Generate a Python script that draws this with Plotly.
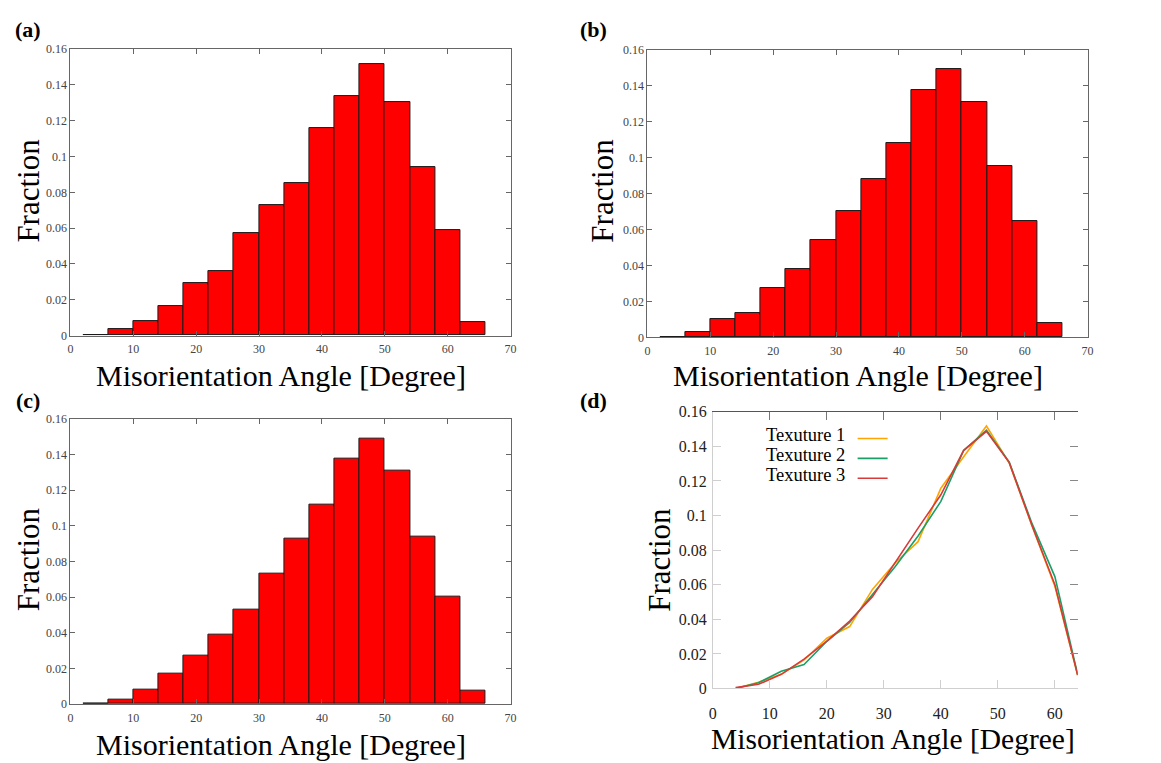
import plotly.graph_objects as go

# ---------------- data ----------------
bin_centers = [4, 8, 12, 16, 20, 24, 28, 32, 36, 40, 44, 48, 52, 56, 60, 64]
frac_a = [0.0, 0.0036, 0.0082, 0.0165, 0.0291, 0.0358, 0.0573, 0.0727, 0.0849,
          0.1158, 0.1340, 0.1518, 0.1304, 0.0940, 0.0591, 0.0076]
frac_b = [0.0, 0.0033, 0.0100, 0.0138, 0.0273, 0.0382, 0.0544, 0.0705, 0.0882,
          0.1082, 0.1376, 0.1493, 0.1309, 0.0953, 0.0647, 0.0080]
frac_c = [0.0005, 0.0024, 0.0082, 0.0170, 0.0274, 0.0390, 0.0531, 0.0732, 0.0927,
          0.1120, 0.1377, 0.1487, 0.1306, 0.0941, 0.0600, 0.0077]
series_names = ["Texuture 1", "Texuture 2", "Texuture 3"]
series_colors = ["#FFA500", "#1AA067", "#D83A3A"]
panel_labels = ["(a)", "(b)", "(c)", "(d)"]
x_title = "Misorientation Angle [Degree]"
y_title = "Fraction"

W, H = 1161, 763
SERIF = "Liberation Serif, Times New Roman, serif"


def px(x):
    return x / W


def py(y):
    return 1 - y / H


fig = go.Figure()

# ---------------- histograms (a), (b), (c) ----------------
for i, vals in enumerate([frac_a, frac_b, frac_c], start=1):
    fig.add_trace(go.Bar(
        x=bin_centers, y=vals, width=4,
        marker=dict(color="#FF0000", line=dict(color="#1a1a1a", width=1)),
        xaxis=f"x{i}", yaxis=f"y{i}", showlegend=False, hoverinfo="x+y",
    ))

# ---------------- line chart (d) ----------------
for name, vals, col in zip(series_names, [frac_a, frac_b, frac_c], series_colors):
    fig.add_trace(go.Scatter(
        x=bin_centers, y=vals, mode="lines", name=" ",
        line=dict(color=col, width=1.6),
        xaxis="x4", yaxis="y4", showlegend=True,
    ))
# helper (empty) traces so that the overlay frame axes are drawn
fig.add_trace(go.Scatter(x=[None], y=[None], xaxis="x5", yaxis="y4",
                         showlegend=False, hoverinfo="skip"))
fig.add_trace(go.Scatter(x=[None], y=[None], xaxis="x4", yaxis="y5",
                         showlegend=False, hoverinfo="skip"))

# ---------------- axes ----------------
hist_dom = {
    1: ([67, 511], [42, 335]),
    2: ([649, 1093], [43, 337]),
    3: ([67, 511], [420, 712]),
}
tickfont_small = dict(family=SERIF, size=12, color="#444")
for i, (xd, yd) in hist_dom.items():
    fig.layout[f"xaxis{i}"] = dict(
        domain=[px(xd[0]), px(xd[1])], anchor=f"y{i}", range=[0, 70],
        tick0=0, dtick=10, showgrid=False, zeroline=False,
        showline=True, linecolor="#666", linewidth=1, mirror="ticks",
        ticks="inside", ticklen=5, tickcolor="#666", tickfont=tickfont_small,
        ticklabelstandoff=2,
    )
    fig.layout[f"yaxis{i}"] = dict(
        domain=[py(yd[1]), py(yd[0])], anchor=f"x{i}", range=[0, 0.16],
        tick0=0, dtick=0.02, showgrid=False, zeroline=False,
        showline=True, linecolor="#666", linewidth=1, mirror="ticks",
        ticks="inside", ticklen=5, tickcolor="#666", tickfont=tickfont_small,
    )

tickfont_d = dict(family=SERIF, size=16, color="#222")
fig.layout["xaxis4"] = dict(
    domain=[px(715), px(1083)], anchor="y4", range=[0, 64],
    tick0=0, dtick=10, showgrid=False, zeroline=False,
    showline=True, linecolor="#cfcfcf", linewidth=1,
    ticks="inside", ticklen=8, tickcolor="#cfcfcf", tickfont=tickfont_d,
    ticklabelstandoff=10,
)
fig.layout["yaxis4"] = dict(
    domain=[py(696), py(413)], anchor="x4", range=[0, 0.16],
    tick0=0, dtick=0.02, showgrid=False, zeroline=False,
    showline=True, linecolor="#cfcfcf", linewidth=1,
    ticks="inside", ticklen=8, tickcolor="#cfcfcf", tickfont=tickfont_d,
    ticklabelstandoff=2,
)
fig.layout["xaxis5"] = dict(
    overlaying="x4", side="top", anchor="y4", range=[0, 64],
    tick0=0, dtick=10, showgrid=False, zeroline=False,
    showline=True, linecolor="#555", linewidth=1.3,
    ticks="inside", ticklen=8, tickcolor="#777", showticklabels=False,
)
fig.layout["yaxis5"] = dict(
    overlaying="y4", side="right", anchor="x4", range=[0, 0.16],
    tick0=0, dtick=0.02, showgrid=False, zeroline=False,
    showline=False, ticks="inside", ticklen=8, tickcolor="#888",
    showticklabels=False,
)

# ---------------- titles / labels ----------------
ann = []
xt_pos = [(279, 376), (861, 376), (279, 753), (897, 748)]
yt_pos = [(25, 187), (604, 187), (25, 564), (661, 564)]
for k, (x, y) in enumerate(xt_pos):
    ann.append(dict(text=x_title, x=px(x), y=py(y), xref="paper", yref="paper",
                    xanchor="center", yanchor="middle", showarrow=False,
                    font=dict(family=SERIF, size=30 if k < 3 else 29.5, color="#000")))
for (x, y) in yt_pos:
    ann.append(dict(text=y_title, x=px(x), y=py(y), xref="paper", yref="paper",
                    xanchor="center", yanchor="middle", showarrow=False,
                    textangle=-90,
                    font=dict(family=SERIF, size=31, color="#000")))
lab_pos = [(24, 22), (595, 22), (24, 401), (595, 401)]
for lab, (x, y) in zip(panel_labels, lab_pos):
    ann.append(dict(text=f"<b>{lab}</b>", x=px(x), y=py(y), xref="paper", yref="paper",
                    xanchor="center", yanchor="middle", showarrow=False,
                    font=dict(family=SERIF, size=22, color="#000")))
# legend text (the legend itself draws the line samples to the right)
leg_rows = [437, 457.5, 478]
for name, y in zip(series_names, leg_rows):
    ann.append(dict(text=name, x=px(850), y=py(y), xref="paper", yref="paper",
                    xanchor="right", yanchor="middle", showarrow=False,
                    font=dict(family=SERIF, size=18.5, color="#000")))

fig.update_layout(
    width=W, height=H, margin=dict(l=0, r=0, t=0, b=0),
    paper_bgcolor="white", plot_bgcolor="white",
    bargap=0, annotations=ann,
    legend=dict(x=px(856), y=py(425), xanchor="left", yanchor="top",
                bgcolor="rgba(0,0,0,0)", borderwidth=0, tracegroupgap=0,
                font=dict(family=SERIF, size=13, color="#000"),
                itemclick=False, itemdoubleclick=False),
)

fig.write_html("out.html")
